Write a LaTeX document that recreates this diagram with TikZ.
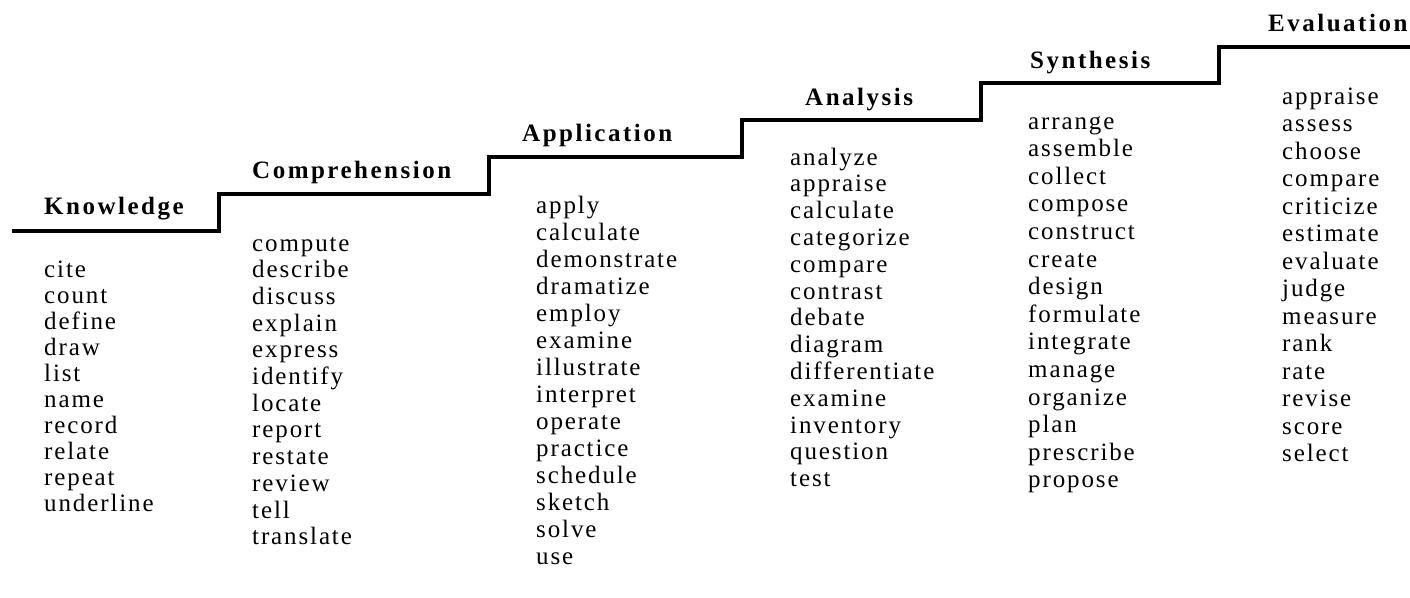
\documentclass[tikz,border=0pt]{standalone}
\usepackage{fontspec}
\setmainfont{Liberation Serif}
\newfontfamily\wordfont{Liberation Serif}[LetterSpace=7.5]
\newfontfamily\headfont{Liberation Serif}[LetterSpace=10]
\begin{document}
\begin{tikzpicture}[x=1pt,y=-1pt,
  word/.style={font=\wordfont\fontsize{25}{27}\selectfont, inner sep=0pt, anchor=base west},
  head/.style={font=\headfont\fontsize{25}{27}\selectfont\bfseries, inner sep=0pt, anchor=base west},
  stair/.style={line width=3.5pt, line join=miter}]
\useasboundingbox (0,0) rectangle (1410,597);
\draw[stair] (12,231) -| (219,194) -| (489,157) -| (742,120) -| (981,83) -| (1219,47) -- (1410,47);
\node[head] (hk) at (44,214) {Knowledge};
\node[head] (hc) at (252,178) {Comprehension};
\node[head] (ha) at (522,141) {Application};
\node[head] (hn) at (805,105) {Analysis};
\node[head] (hs) at (1030,68) {Synthesis};
\node[head] (he) at (1268,31) {Evaluation};
\foreach \w [count=\i] in {cite,count,define,draw,list,name,record,relate,repeat,underline}
  \node[word] (k\i) at (44,{277+(\i-1)*26}) {\w};
\foreach \w [count=\i] in {compute,describe,discuss,explain,express,identify,locate,report,restate,review,tell,translate}
  \node[word] (c\i) at (252,{251+(\i-1)*26.7}) {\w};
\foreach \w [count=\i] in {apply,calculate,demonstrate,dramatize,employ,examine,illustrate,interpret,operate,practice,schedule,sketch,solve,use}
  \node[word] (a\i) at (536,{213+(\i-1)*27.05}) {\w};
\foreach \w [count=\i] in {analyze,appraise,calculate,categorize,compare,contrast,debate,diagram,differentiate,examine,inventory,question,test}
  \node[word] (n\i) at (790,{165+(\i-1)*26.8}) {\w};
\foreach \w [count=\i] in {arrange,assemble,collect,compose,construct,create,design,formulate,integrate,manage,organize,plan,prescribe,propose}
  \node[word] (s\i) at (1028,{129+(\i-1)*27.6}) {\w};
\foreach \w [count=\i] in {appraise,assess,choose,compare,criticize,estimate,evaluate,judge,measure,rank,rate,revise,score,select}
  \node[word] (e\i) at (1282,{104+(\i-1)*27.5}) {\w};
\end{tikzpicture}
\end{document}
